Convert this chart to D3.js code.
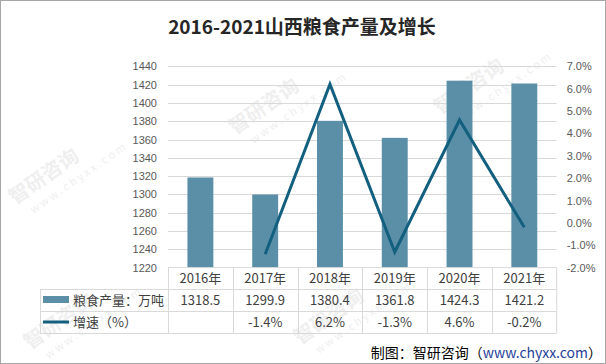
<!DOCTYPE html>
<html>
<head>
<meta charset="utf-8">
<script src="https://cdn.jsdelivr.net/npm/d3@7"></script>
<style>
  body { margin: 0; background: #fff; }
  svg text { font-family: "Noto Sans CJK SC", "DejaVu Sans", sans-serif; }
</style>
</head>
<body>
<div id="chart"></div>
<script>
// 2016-2021 Shanxi grain output + growth, bars + line + data table

var years = ['2016年', '2017年', '2018年', '2019年', '2020年', '2021年'];
var output = [1318.5, 1299.9, 1380.4, 1361.8, 1424.3, 1421.2];
var growth = [null, -1.4, 6.2, -1.3, 4.6, -0.2];
var left_ticks = [1220, 1240, 1260, 1280, 1300, 1320, 1340, 1360, 1380, 1400, 1420, 1440];
var right_ticks = [-2, -1, 0, 1, 2, 3, 4, 5, 6, 7];
var series_names = ['粮食产量：万吨', '增速（%）'];

var chart_width = 606;
var chart_height = 364;
var bar_color = '#5b8fa7';
var line_color = '#135f7f';
var grid_color = '#d9d9d9';

var svg = d3
  .select('#chart')
  .append('svg')
  .attr('width', chart_width)
  .attr('height', chart_height);

svg.append('rect')
  .attr('x', 0.5).attr('y', 0.5)
  .attr('width', chart_width - 1).attr('height', chart_height - 1)
  .attr('fill', '#fff')
  .attr('stroke', '#a6a6a6');

// faint watermarks
var wm = svg.append('g').attr('fill', '#efefef');
[[15, 205], [235, 135], [440, 115], [30, 350], [300, 345]].forEach(function(p) {
  var g = wm.append('g').attr('transform', 'translate(' + p[0] + ',' + p[1] + ') rotate(-35)');
  g.append('text').attr('font-size', 20).attr('font-weight', 'bold').text('智研咨询');
  g.append('text').attr('y', 18).attr('x', 10).attr('font-size', 11).text('w w w . c h y x x . c o m');
});

// title
svg.append('text')
  .attr('x', 302)
  .attr('y', 34)
  .attr('text-anchor', 'middle')
  .attr('font-size', 19)
  .attr('font-weight', 'bold')
  .attr('fill', '#262626')
  .text('2016-2021山西粮食产量及增长');

// scales
var plot_left = 168, plot_right = 556.7, plot_top = 66.3, plot_bottom = 267.6;
var x_scale = d3
  .scaleBand()
  .domain(years)
  .range([plot_left, plot_right])
  .paddingInner(0);
var y_scale = d3
  .scaleLinear()
  .domain([1220, 1440])
  .range([plot_bottom, plot_top]);
var y2_scale = d3
  .scaleLinear()
  .domain([-2, 7])
  .range([plot_bottom, plot_top]);

// grid lines
svg.append('g')
  .selectAll('line')
  .data(left_ticks.slice(1))
  .enter()
  .append('line')
  .attr('x1', plot_left)
  .attr('x2', plot_right)
  .attr('y1', function(d) { return Math.round(y_scale(d)) + 0.5; })
  .attr('y2', function(d) { return Math.round(y_scale(d)) + 0.5; })
  .attr('stroke', grid_color);

// left axis labels
var left_axis = svg.append('g')
  .attr('transform', 'translate(' + (plot_left - 11) + ',0)')
  .call(d3.axisLeft(y_scale).tickValues(left_ticks).tickSize(0).tickPadding(0)
    .tickFormat(d3.format('d')));
left_axis.select('.domain').remove();
left_axis.selectAll('text').attr('font-size', 11).attr('fill', '#595959')
  .style('font-family', '"Liberation Sans", Arial, sans-serif');

// right axis labels
var right_axis = svg.append('g')
  .attr('transform', 'translate(' + (plot_right + 10) + ',0)')
  .call(d3.axisRight(y2_scale).tickValues(right_ticks).tickSize(0).tickPadding(0)
    .tickFormat(function(d) { return d.toFixed(1) + '%'; }));
right_axis.select('.domain').remove();
right_axis.selectAll('text').attr('font-size', 11).attr('fill', '#595959')
  .style('font-family', '"Liberation Sans", Arial, sans-serif');

// bars
var bar_w = x_scale.bandwidth() * 0.4;
svg.append('g')
  .selectAll('rect')
  .data(output)
  .enter()
  .append('rect')
  .attr('x', function(d, i) { return x_scale(years[i]) + (x_scale.bandwidth() - bar_w) / 2; })
  .attr('y', function(d) { return y_scale(d); })
  .attr('width', bar_w)
  .attr('height', function(d) { return plot_bottom - y_scale(d); })
  .attr('fill', bar_color);

// growth line
var line = d3.line()
  .defined(function(d) { return d != null; })
  .x(function(d, i) { return x_scale(years[i]) + x_scale.bandwidth() / 2; })
  .y(function(d) { return y2_scale(d); });
svg.append('path')
  .datum(growth)
  .attr('d', line)
  .attr('fill', 'none')
  .attr('stroke', line_color)
  .attr('stroke-width', 3)
  .attr('stroke-linejoin', 'miter');

// data table
var table_left = 40;
var row_y = [plot_bottom, 289, 311, 333];
var table = svg.append('g').attr('stroke', grid_color).attr('fill', 'none');
// horizontal lines
table.append('line').attr('x1', plot_left).attr('x2', plot_right)
  .attr('y1', row_y[0]).attr('y2', row_y[0]);
row_y.slice(1).forEach(function(y) {
  table.append('line').attr('x1', table_left).attr('x2', plot_right)
    .attr('y1', y + 0.5).attr('y2', y + 0.5);
});
// vertical lines
table.append('line').attr('x1', table_left + 0.5).attr('x2', table_left + 0.5)
  .attr('y1', row_y[1]).attr('y2', row_y[3] + 0.5);
years.forEach(function(d) {
  var x = Math.round(x_scale(d)) + 0.5;
  table.append('line').attr('x1', x).attr('x2', x).attr('y1', row_y[0]).attr('y2', row_y[3] + 0.5);
});
table.append('line').attr('x1', plot_right).attr('x2', plot_right)
  .attr('y1', row_y[0]).attr('y2', row_y[3] + 0.5);

var cell_text = svg.append('g')
  .attr('font-size', 13)
  .attr('fill', '#404040')
  .attr('text-anchor', 'middle');
function add_row(values, idx, fmt) {
  cell_text.selectAll(null)
    .data(values)
    .enter()
    .append('text')
    .attr('x', function(d, i) { return x_scale(years[i]) + x_scale.bandwidth() / 2; })
    .attr('y', (row_y[idx] + row_y[idx + 1]) / 2 + 5)
    .text(fmt);
}
add_row(years, 0, function(d) { return d; });
add_row(output, 1, function(d) { return d.toFixed(1); });
add_row(growth, 2, function(d) { return d == null ? '' : d.toFixed(1) + '%'; });

// legend keys inside table
svg.append('rect')
  .attr('x', 43).attr('y', 296)
  .attr('width', 26).attr('height', 7)
  .attr('fill', bar_color);
svg.append('line')
  .attr('x1', 43).attr('x2', 69)
  .attr('y1', 322).attr('y2', 322)
  .attr('stroke', line_color).attr('stroke-width', 3);
svg.append('g')
  .attr('font-size', 13)
  .attr('fill', '#404040')
  .selectAll('text')
  .data(series_names)
  .enter()
  .append('text')
  .attr('x', 73)
  .attr('y', function(d, i) { return (row_y[i + 1] + row_y[i + 2]) / 2 + 5; })
  .text(function(d) { return d; });

// source
var src = svg.append('text')
  .attr('x', 602)
  .attr('y', 358)
  .attr('text-anchor', 'end')
  .attr('font-size', 14)
  .attr('fill', '#000');
src.append('tspan').text('制图：智研咨询（');
src.append('tspan').attr('fill', '#1f3f99').text('www.chyxx.com');
src.append('tspan').text('）');
</script>
</body>
</html>
